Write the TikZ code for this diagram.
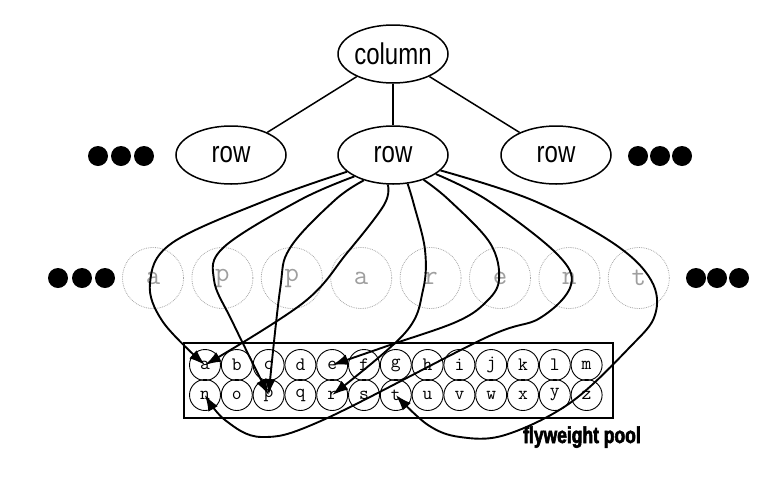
\documentclass[tikz,border=0pt]{standalone}
\usepackage{fontspec}
\setmainfont{Liberation Serif}
\newfontfamily\labelfont[FakeStretch=0.8]{Liberation Sans}
\newfontfamily\poolfont[FakeStretch=0.76, FakeBold=2.5]{Liberation Sans Bold}
\usetikzlibrary{shapes.geometric, arrows.meta}

\begin{document}
\begin{tikzpicture}[x=1pt, y=-1pt,
    oval/.style={draw, ellipse, line width=1.5pt, minimum width=110pt,
      minimum height=58pt, inner sep=0pt,
      font=\labelfont\fontsize{30}{30}\selectfont},
    ghost/.style={draw=gray!70, densely dotted, line width=0.8pt, circle,
      minimum size=61pt, inner sep=0pt, text=gray!75,
      font=\ttfamily\fontsize{28}{28}\selectfont},
    glyph/.style={draw, circle, line width=0.9pt, minimum size=31pt,
      inner sep=0pt, font=\ttfamily\fontsize{19}{19}\selectfont},
    link/.style={line width=1.9pt, -{Latex[length=16pt, width=11pt]}}]
  \useasboundingbox (0,0) rectangle (779,491);

  % tree part
  \node[oval] (col)  at (393,54)  {column};
  \node[oval] (rowl) at (231,155) {row};
  \node[oval] (rowm) at (393,155) {row};
  \node[oval] (rowr) at (556,155) {row};
  \draw[line width=1.5pt] (col) -- (rowl);
  \draw[line width=1.5pt] (col) -- (rowm);
  \draw[line width=1.5pt] (col) -- (rowr);
  \foreach \x in {98,121,144,638,660,682}
    \fill (\x,156) circle (10pt);

  % characters of the row
  \foreach \ch [count=\i from 0] in {a,p,p,a,r,e,n,t}
    \node[ghost] (g\i) at (153+69.4*\i,278) {\ch};
  \foreach \x in {58,82,105,696,717,739}
    \fill (\x,278) circle (10pt);

  % the pool
  \draw[line width=1.2pt] (184,343) rectangle (613,418);
  \foreach \ch [count=\i from 0] in {a,b,c,d,e,f,g,h,i,j,k,l,m}
    \node[glyph] (p\ch) at (205+31.8*\i,365) {\ch};
  \foreach \ch [count=\i from 0] in {n,o,p,q,r,s,t,u,v,w,x,y,z}
    \node[glyph] (p\ch) at (205+31.8*\i,395) {\ch};
  \node[anchor=base west, inner sep=0pt,
    font=\poolfont\fontsize{23}{23}\selectfont]
    (poolname) at (523,443) {flyweight pool};

  % shared references
  \draw[link] plot[smooth, tension=0.6] coordinates
    {(rowm.200) (267,200) (172,243) (150,283) (163,322) (pa.center)};
  \draw[link] plot[smooth, tension=0.6] coordinates
    {(rowm.209) (300,200) (224,247) (214,280) (233,323) (pp.center)};
  \draw[link] plot[smooth, tension=0.6] coordinates
    {(rowm.221) (335,200) (290,248) (280,290) (pp.center)};
  \draw[link] plot[smooth, tension=0.6] coordinates
    {(rowm.260) (384,205) (347,253) (303,303) (pa.center)};
  \draw[link] plot[smooth, tension=0.6] coordinates
    {(rowm.297) (414,205) (425,250) (423,290) (405,333) (pr.center)};
  \draw[link] plot[smooth, tension=0.6] coordinates
    {(rowm.321) (449,200) (490,243) (499,280) (485,303) (456,322) (390,345) (pe.center)};
  \draw[link] plot[smooth, tension=0.6] coordinates
    {(rowm.336) (487,200) (556,253) (571,285) (540,318) (485,338) (323,420) (262,437) (225,420) (pn.center)};
  \draw[link] plot[smooth, tension=0.6] coordinates
    {(rowm.342) (532,200) (613,243) (651,280) (655,315) (630,347) (570,403) (505,435) (460,437) (428,425) (pt.center)};
\end{tikzpicture}
\end{document}
